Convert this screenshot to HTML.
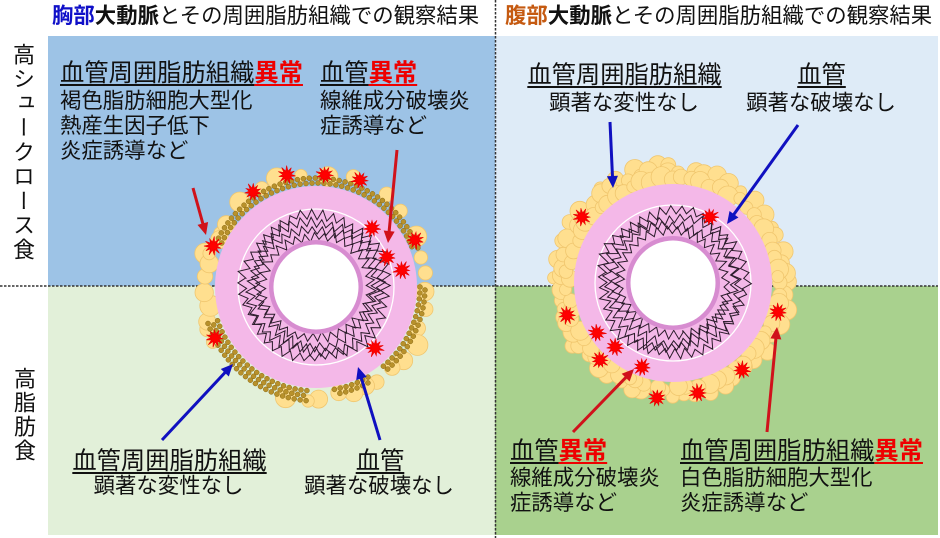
<!DOCTYPE html>
<html><head><meta charset="utf-8">
<style>
html,body{margin:0;padding:0;}
body{width:940px;height:538px;position:relative;overflow:hidden;background:#fff;font-family:"Liberation Sans","Noto Sans CJK JP",sans-serif;color:#111;}
.q{position:absolute;}
.t{position:absolute;white-space:nowrap;line-height:1;}
.h{font-size:24.3px;}
.s{font-size:21.4px;}
.c{width:300px;text-align:center;}
.u{text-decoration:underline;text-decoration-thickness:1.6px;text-underline-offset:3px;}
.r{color:#ee0000;font-weight:bold;}
svg{position:absolute;left:0;top:0;}
</style></head><body>
<div class="q" style="left:48px;top:36px;width:447px;height:250px;background:#9DC3E6"></div>
<div class="q" style="left:495px;top:36px;width:443px;height:250px;background:#DEEBF7"></div>
<div class="q" style="left:48px;top:286px;width:447px;height:249px;background:#E2F0D9"></div>
<div class="q" style="left:495px;top:286px;width:443px;height:249px;background:#A9D18E"></div>

<svg id="g" width="940" height="538" viewBox="0 0 940 538">
<line x1="0" y1="286" x2="938" y2="286" stroke="#333" stroke-width="1.5" stroke-dasharray="2.5 1.5"/>
<line x1="495.5" y1="0" x2="495.5" y2="538" stroke="#333" stroke-width="1.5" stroke-dasharray="2.5 1.5"/>
</svg>

<div class="t" style="left:52px;top:6px;font-size:21.4px"><b style="color:#1010C8">胸部</b><b>大動脈</b>とその周囲脂肪組織での観察結果</div>
<div class="t" style="left:505px;top:6px;font-size:21.4px"><b style="color:#C55A11">腹部</b><b>大動脈</b>とその周囲脂肪組織での観察結果</div>

<div class="t" style="left:11px;top:43px;font-size:22px;line-height:22px;writing-mode:vertical-rl;letter-spacing:2.4px">高シュークロース食</div>
<div class="t" style="left:12px;top:367px;font-size:22px;line-height:22px;writing-mode:vertical-rl;letter-spacing:2px">高脂肪食</div>

<!-- TL -->
<div class="t h" style="left:60px;top:61.5px"><span class="u">血管周囲脂肪組織</span><span class="u r">異常</span></div>
<div class="t s" style="left:60px;top:91.1px">褐色脂肪細胞大型化</div>
<div class="t s" style="left:60px;top:116.1px">熱産生因子低下</div>
<div class="t s" style="left:60px;top:141.1px">炎症誘導など</div>
<div class="t h" style="left:320px;top:61.5px"><span class="u">血管</span><span class="u r">異常</span></div>
<div class="t s" style="left:320px;top:91.1px">線維成分破壊炎</div>
<div class="t s" style="left:320px;top:116.1px">症誘導など</div>

<!-- TR -->
<div class="t h c" style="left:474.5px;top:63.5px"><span class="u">血管周囲脂肪組織</span></div>
<div class="t s c" style="left:474px;top:93.1px">顕著な変性なし</div>
<div class="t h c" style="left:671.5px;top:63.5px"><span class="u">血管</span></div>
<div class="t s c" style="left:671px;top:93.1px">顕著な破壊なし</div>

<!-- BL -->
<div class="t h c" style="left:19.5px;top:449.5px"><span class="u">血管周囲脂肪組織</span></div>
<div class="t s c" style="left:18.5px;top:476.1px">顕著な変性なし</div>
<div class="t h c" style="left:230px;top:449.5px"><span class="u">血管</span></div>
<div class="t s c" style="left:229px;top:476.1px">顕著な破壊なし</div>

<!-- BR -->
<div class="t h" style="left:510px;top:439.5px"><span class="u">血管</span><span class="u r">異常</span></div>
<div class="t s" style="left:510px;top:468.1px">線維成分破壊炎</div>
<div class="t s" style="left:510px;top:493.1px">症誘導など</div>
<div class="t h" style="left:680px;top:439.5px"><span class="u">血管周囲脂肪組織</span><span class="u r">異常</span></div>
<div class="t s" style="left:680px;top:468.1px">白色脂肪細胞大型化</div>
<div class="t s" style="left:680px;top:493.1px">炎症誘導など</div>

<script>
(function(){
const svg=document.getElementById('g');
const NS='http://www.w3.org/2000/svg';
function el(tag,attrs){const e=document.createElementNS(NS,tag);for(const k in attrs)e.setAttribute(k,attrs[k]);svg.appendChild(e);return e;}
let seed=12345;function rnd(){seed=(seed*16807)%2147483647;return (seed-1)/2147483646;}
const D=Math.PI/180;
function cells(cx,cy,ranges){
 for(const [a0,a1,rm,rx,st] of ranges){
  for(let a=a0;a<=a1;a+=st){
   const aa=(a+(rnd()-0.5)*st*0.6)*D;const r=rm+rnd()*(rx-rm);const cr=6+rnd()*4.5;
   el('circle',{cx:(cx+r*Math.cos(aa)).toFixed(1),cy:(cy+r*Math.sin(aa)).toFixed(1),r:cr.toFixed(1),fill:'#FFDF8F',stroke:'#F0C66E','stroke-width':0.8});
  }
 }
}
function dots(cx,cy,ranges){
 for(const [a0,a1,rows] of ranges){
  for(let k=0;k<rows;k++){
   const r=104+k*5;const st=6/r/D;
   for(let a=a0+(k%2)*st/2;a<=a1;a+=st){
    el('circle',{cx:(cx+r*Math.cos(a*D)).toFixed(1),cy:(cy+r*Math.sin(a*D)).toFixed(1),r:2.5,fill:'#B8912B',stroke:'#8A6914','stroke-width':0.5});
   }
  }
 }
}
function vessel(cx,cy,R){
 el('circle',{cx:cx,cy:cy,r:R,fill:'#F4B8E8'});
 el('circle',{cx:cx,cy:cy,r:78,fill:'none',stroke:'#fff','stroke-width':1.3});
 for(let k=0;k<4;k++){
  const n=34+k*3,r0=53+k*6.2,amp=4.2,ph=rnd()*6,mph=rnd()*6,mf=2+k;
  let d='';
  for(let i=0;i<=2*n;i++){const a=i*Math.PI/n+ph;
   const r=r0+2.2*Math.sin(mf*a+mph)+(i%2?amp:-amp)+(rnd()-0.5)*3;
   d+=(i?'L':'M')+(cx+r*Math.cos(a)).toFixed(1)+','+(cy+r*Math.sin(a)).toFixed(1);}
  el('path',{d:d+'Z',fill:'none',stroke:'#2a1b2a','stroke-width':1,'stroke-linejoin':'miter'});
 }
 el('circle',{cx:cx,cy:cy,r:47,fill:'#D78CD0'});
 el('circle',{cx:cx,cy:cy,r:42.5,fill:'#fff'});
}
function star(x,y){const p=[];const n=11;const ph=rnd();for(let i=0;i<2*n;i++){const a=(i+ph)*Math.PI/n;const r=i%2?4:(7.5+rnd()*2.2);p.push((x+r*Math.cos(a)).toFixed(1)+','+(y+r*Math.sin(a)).toFixed(1));}
 el('polygon',{points:p.join(' '),fill:'#FF0000',stroke:'#E80000','stroke-width':0.6});}
function arrow(x1,y1,x2,y2,c){const dx=x2-x1,dy=y2-y1,L=Math.hypot(dx,dy),ux=dx/L,uy=dy/L;const hl=12,hw=5.5;const bx=x2-ux*hl,by=y2-uy*hl;
 el('line',{x1:x1,y1:y1,x2:bx+ux,y2:by+uy,stroke:c,'stroke-width':3});
 el('polygon',{points:x2+','+y2+' '+(bx-uy*hw)+','+(by+ux*hw)+' '+(bx+uy*hw)+','+(by-ux*hw),fill:c});}

// left vessel
const L1=[316,287];
cells(L1[0],L1[1],[[200,335,110,117,13],[150,215,105,118,7],[335,395,108,118,9],[40,105,108,117,8]]);
vessel(L1[0],L1[1],101);
dots(L1[0],L1[1],[[205,340,2],[0,50,2],[60,80,2],[95,162,3]]);
[[287,175],[325,175],[360,180],[253,192],[213,246],[372,228],[415,240],[387,257],[402,270],[215,338],[375,348]].forEach(s=>star(s[0],s[1]));

// right vessel
const R1=[673,283];
cells(R1[0],R1[1],[[150,290,112,120,10],[0,360,110,117,7],[0,360,102,108,5.5]]);
vessel(R1[0],R1[1],99);
[[582,217],[710,217],[567,315],[597,333],[615,347],[600,360],[642,367],[778,312],[742,370],[657,398],[698,393]].forEach(s=>star(s[0],s[1]));

// arrows
const red='#D0121B',blue='#1010C0';
arrow(193,188,206,235,red);
arrow(397,150,388,243,red);
arrow(610,122,613,188,blue);
arrow(798,125,727,224,blue);
arrow(162,440,233,364,blue);
arrow(380,440,358,367,blue);
arrow(573,432,634,369,red);
arrow(767,432,777,327,red);
})();
</script>
</body></html>
